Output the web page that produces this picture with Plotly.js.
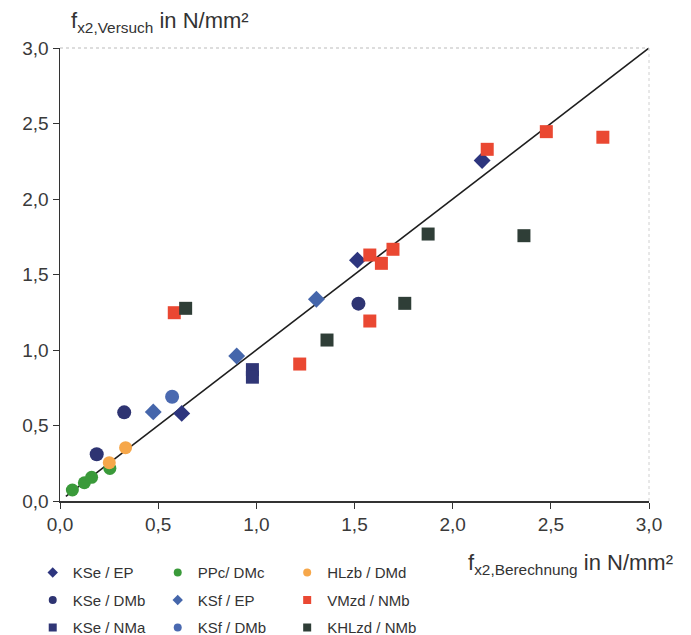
<!DOCTYPE html>
<html>
<head>
<meta charset="utf-8">
<script src="https://cdn.plot.ly/plotly-3.0.1.min.js"></script>
<style>html,body{margin:0;padding:0;background:#fff;}#chart{width:691px;height:635px;}</style>
</head>
<body>
<div id="chart"></div>
<script>
// Series data (x = fx2,Berechnung, y = fx2,Versuch), in N/mm²
var KSe_EP_x = [0.62, 1.515, 2.15];
var KSe_EP_y = [0.58, 1.595, 2.255];
var KSe_DMb_x = [0.187, 0.327, 1.52];
var KSe_DMb_y = [0.31, 0.587, 1.307];
var KSe_NMa_x = [0.98, 0.98];
var KSe_NMa_y = [0.87, 0.82];
var PPc_DMc_x = [0.063, 0.124, 0.161, 0.254];
var PPc_DMc_y = [0.073, 0.121, 0.157, 0.216];
var KSf_EP_x = [0.475, 0.90, 1.306];
var KSf_EP_y = [0.59, 0.96, 1.336];
var KSf_DMb_x = [0.571];
var KSf_DMb_y = [0.69];
var HLzb_DMd_x = [0.251, 0.334];
var HLzb_DMd_y = [0.254, 0.353];
var VMzd_NMb_x = [0.582, 1.221, 1.578, 1.578, 1.637, 1.696, 2.176, 2.477, 2.765];
var VMzd_NMb_y = [1.247, 0.907, 1.192, 1.629, 1.574, 1.667, 2.329, 2.446, 2.409];
var KHLzd_NMb_x = [0.64, 1.36, 1.756, 1.875, 2.363];
var KHLzd_NMb_y = [1.276, 1.066, 1.309, 1.768, 1.757];
var line_x = [0.03, 3.0];
var line_y = [0.03, 3.0];
var tickVals = [0, 0.5, 1.0, 1.5, 2.0, 2.5, 3.0];

var series = [
  {name: 'KSe / EP',   x: KSe_EP_x,   y: KSe_EP_y,   color: '#2d357e', symbol: 'diamond', size: 13, legend: 'legend'},
  {name: 'KSe / DMb',  x: KSe_DMb_x,  y: KSe_DMb_y,  color: '#2e3472', symbol: 'circle',  size: 14, legend: 'legend'},
  {name: 'KSe / NMa',  x: KSe_NMa_x,  y: KSe_NMa_y,  color: '#303676', symbol: 'square',  size: 13, legend: 'legend'},
  {name: 'PPc/ DMc',   x: PPc_DMc_x,  y: PPc_DMc_y,  color: '#3a9a3a', symbol: 'circle',  size: 13, legend: 'legend2'},
  {name: 'KSf / EP',   x: KSf_EP_x,   y: KSf_EP_y,   color: '#4566ab', symbol: 'diamond', size: 13, legend: 'legend2'},
  {name: 'KSf / DMb',  x: KSf_DMb_x,  y: KSf_DMb_y,  color: '#4a69b0', symbol: 'circle',  size: 14, legend: 'legend2'},
  {name: 'HLzb / DMd', x: HLzb_DMd_x, y: HLzb_DMd_y, color: '#f6a74a', symbol: 'circle',  size: 13, legend: 'legend3'},
  {name: 'VMzd / NMb', x: VMzd_NMb_x, y: VMzd_NMb_y, color: '#ea4832', symbol: 'square',  size: 13, legend: 'legend3'},
  {name: 'KHLzd / NMb',x: KHLzd_NMb_x,y: KHLzd_NMb_y,color: '#2f3e37', symbol: 'square',  size: 13, legend: 'legend3'}
];

var traces = [];
traces.push({x: line_x, y: line_y, mode: 'lines', line: {color: '#1e1e1e', width: 1.6}, showlegend: false, hoverinfo: 'skip'});
series.forEach(function (s) {
  traces.push({x: s.x, y: s.y, mode: 'markers', name: s.name, showlegend: false,
    marker: {color: s.color, symbol: s.symbol, size: s.size, line: {width: 0}}});
});
// legend entries (small symbols as in the reference)
series.forEach(function (s, i) {
  traces.push({x: [null], y: [null], mode: 'markers', name: s.name, legend: s.legend,
    legendgroup: 'g' + i, showlegend: true,
    marker: {color: s.color, symbol: s.symbol, size: 8, line: {width: 0}}});
});

function legendAt(x) {
  return {x: x, y: -0.122, xanchor: 'left', yanchor: 'top', orientation: 'v',
    font: {family: 'Liberation Sans, Arial, sans-serif', size: 15, color: '#333'},
    bgcolor: 'rgba(0,0,0,0)', tracegroupgap: 5, traceorder: 'grouped', itemwidth: 30};
}

var tickFont = {family: 'Liberation Sans, Arial, sans-serif', size: 19, color: '#3a3a3a'};
var layout = {
  width: 691, height: 635,
  margin: {l: 60, r: 42, t: 48, b: 134, autoexpand: false},
  paper_bgcolor: '#fff', plot_bgcolor: '#fff',
  separators: ',.',
  showlegend: true,
  xaxis: {range: [0, 3], tickvals: tickVals, tickformat: '.1f', ticks: 'outside', ticklen: 6, tickcolor: '#333',
    showline: true, linecolor: '#333', linewidth: 1.5, showgrid: false, zeroline: false,
    tickfont: tickFont, fixedrange: true, automargin: false},
  yaxis: {range: [0, 3], tickvals: tickVals, tickformat: '.1f', ticks: 'outside', ticklen: 6, tickcolor: '#333',
    showline: true, linecolor: '#333', linewidth: 1.5, showgrid: false, zeroline: false,
    tickfont: tickFont, fixedrange: true, automargin: false},
  legend: legendAt(-0.0463),
  legend2: legendAt(0.1659),
  legend3: legendAt(0.3857),
  shapes: [
    {type: 'line', xref: 'paper', yref: 'paper', x0: 0, x1: 1, y0: 1, y1: 1, line: {color: '#bbbbbb', width: 1, dash: 'dot'}},
    {type: 'line', xref: 'paper', yref: 'paper', x0: 1, x1: 1, y0: 0, y1: 1, line: {color: '#d0d0d0', width: 1, dash: 'dot'}}
  ],
  annotations: [
    {xref: 'paper', yref: 'paper', x: 0.015, y: 1.022, xanchor: 'left', yanchor: 'bottom', showarrow: false,
      text: 'f<sub>x2,Versuch</sub> in N/mm²', font: {family: 'Liberation Sans, Arial, sans-serif', size: 22, color: '#333'}},
    {xref: 'paper', yref: 'paper', x: 1.044, y: -0.103, xanchor: 'right', yanchor: 'top', showarrow: false,
      text: 'f<sub>x2,Berechnung</sub> in N/mm²', font: {family: 'Liberation Sans, Arial, sans-serif', size: 22, color: '#333'}}
  ]
};

Plotly.newPlot('chart', traces, layout, {displayModeBar: false, staticPlot: true});
</script>
</body>
</html>
